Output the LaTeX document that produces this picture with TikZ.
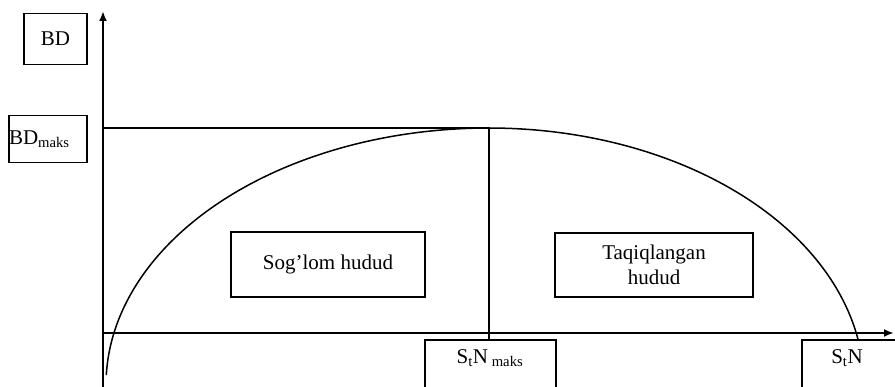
\documentclass[tikz,border=0pt]{standalone}
\usepackage{fontspec}
\setmainfont{Liberation Serif}
\usetikzlibrary{arrows.meta}
\begin{document}
\begin{tikzpicture}[x=1pt,y=-1pt,
  every node/.style={font=\fontsize{21}{25}\selectfont},
  lbox/.style={draw,line width=1.3pt,inner sep=0pt,minimum width=#1},
  axis/.style={line width=2.2pt,-{Latex[length=10pt,width=8pt]}},
  thin line/.style={line width=1.5pt}]
\clip (0,0) rectangle (895,387);
\fill[white] (0,0) rectangle (895,387);
% axes
\coordinate (ybot) at (103,390);
\coordinate (ytop) at (103,11);
\coordinate (xleft) at (103,333);
\coordinate (xright) at (894,333);
\draw[axis] (ybot) -- (ytop);
\draw[axis] (xleft) -- (xright);
% peak lines
\coordinate (ymax) at (103,128);
\coordinate (peak) at (489,128);
\coordinate (pfoot) at (489,340);
\draw[thin line] (ymax) -- (peak) -- (pfoot);
% curve
\draw[thin line] plot[domain=177.8:90,samples=120] ({489+383*cos(\x)},{385-257*sin(\x)});
\draw[thin line] plot[domain=90:10.1,samples=120] ({489+375*cos(\x)},{385-257*sin(\x)});
% labels
\node[lbox=63pt,minimum height=51pt] (bd) at (55.5,39) {BD};
\node[lbox=78pt,minimum height=47pt,align=left,text width=76pt] (bdmax) at (48,139) {\hspace*{-1pt}BD\textsubscript{maks}};
\node[lbox=194pt,minimum height=65pt] (sog) at (328,264.5) {Sog’lom hudud};
\node[lbox=198pt,minimum height=64pt,align=center] (taq) at (654,265) {Taqiqlangan\\hudud};
\node[lbox=131pt,minimum height=80pt] (stnmax) at (490.5,380) {};
\node (stnmaxt) at (490,358) {S\textsubscript{t}N\textsubscript{ maks}};
\node[lbox=120pt,minimum height=80pt] (stn) at (862,380) {};
\node (stnt) at (847,358) {S\textsubscript{t}N};
\end{tikzpicture}
\end{document}
